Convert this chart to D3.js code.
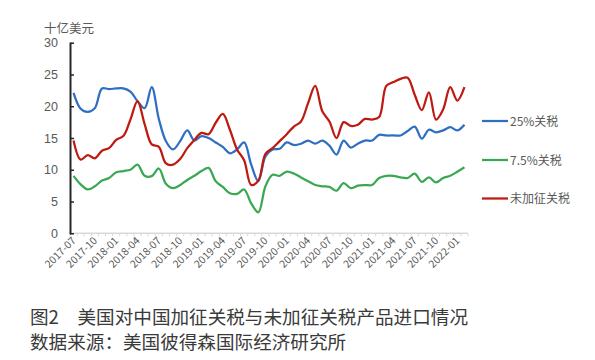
<!DOCTYPE html>
<html>
<head>
<meta charset="utf-8">
<title>美国对中国加征关税与未加征关税产品进口情况</title>
<script src="https://cdn.jsdelivr.net/npm/d3@7"></script>
<style>
body { margin: 0; background: #fff; }
svg text { font-family: "Noto Sans CJK SC", "Liberation Sans", sans-serif; }
.tick-label { fill: #595959; font-size: 12.5px; }
.xlab { fill: #595959; font-size: 10.5px; }
.leg { fill: #595959; font-size: 12px; }
.cap { fill: #3a3a3a; font-size: 18.6px; }
</style>
</head>
<body>
<svg id="vis" width="595" height="360"></svg>
<script>
// months on the category axis
var months = [
  "2017-07","2017-08","2017-09","2017-10","2017-11","2017-12",
  "2018-01","2018-02","2018-03","2018-04","2018-05","2018-06",
  "2018-07","2018-08","2018-09","2018-10","2018-11","2018-12",
  "2019-01","2019-02","2019-03","2019-04","2019-05","2019-06",
  "2019-07","2019-08","2019-09","2019-10","2019-11","2019-12",
  "2020-01","2020-02","2020-03","2020-04","2020-05","2020-06",
  "2020-07","2020-08","2020-09","2020-10","2020-11","2020-12",
  "2021-01","2021-02","2021-03","2021-04","2021-05","2021-06",
  "2021-07","2021-08","2021-09","2021-10","2021-11","2021-12",
  "2022-01","2022-02"
];

// 十亿美元
var tariff25 = [
  22.1, 19.6, 19.1, 19.7, 22.8, 22.7, 22.8, 22.8, 22.3, 20.8, 19.7, 23.0, 18.0, 14.5,
  13.2, 14.5, 16.2, 14.6, 15.3, 15.0, 14.3, 13.6, 12.6, 13.2, 14.3, 10.8, 8.2, 12.1,
  13.2, 13.3, 14.3, 13.9, 14.1, 14.6, 14.1, 14.6, 13.8, 12.4, 14.6, 13.5, 14.1, 14.6,
  14.6, 15.5, 15.4, 15.4, 15.4, 16.1, 16.8, 14.9, 16.3, 15.9, 16.2, 16.7, 16.2, 17.1
];
var tariff75 = [
  9.05, 7.7, 6.9, 7.4, 8.3, 8.7, 9.6, 9.8, 10.0, 10.8, 9.05, 9.0, 10.2, 7.8,
  7.1, 7.6, 8.4, 9.05, 9.8, 10.3, 8.2, 7.3, 6.3, 6.2, 6.9, 4.7, 3.3, 7.4,
  9.2, 9.05, 9.7, 9.4, 8.8, 8.2, 7.6, 7.4, 7.3, 6.7, 7.9, 7.1, 7.5, 7.6,
  7.6, 8.7, 9.05, 9.05, 8.8, 8.7, 9.4, 8.1, 8.8, 8.0, 8.7, 9.05, 9.7, 10.4
];
var noTariff = [
  14.6, 11.6, 12.3, 11.8, 13.0, 13.4, 14.7, 15.3, 17.9, 20.8, 17.2, 14.0, 13.6, 11.0,
  10.8, 11.7, 13.4, 14.7, 15.8, 15.6, 17.4, 18.8, 16.3, 13.2, 11.5, 7.6, 8.3, 12.5,
  13.4, 14.5, 15.6, 16.8, 17.6, 20.5, 23.2, 19.2, 17.6, 15.0, 17.5, 16.9, 17.1, 18.0,
  17.9, 18.3, 23.2, 23.8, 24.3, 24.5, 21.8, 19.4, 22.2, 17.9, 19.5, 23.0, 20.9, 23.0
];

var seriesNames = ["25%关税", "7.5%关税", "未加征关税"];
var seriesColors = ["#2e6fc2", "#3aa853", "#bf1a12"];
var yTicks = [0, 5, 10, 15, 20, 25, 30];
var xLabels = months.filter((d, i) => i % 3 === 0);

var svg = d3.select("#vis");

var x = d3.scaleBand().domain(months).range([70, 468]);
var y = d3.scaleLinear().domain([0, 30]).range([233.3, 42.7]);
var cx = d => x(d) + x.bandwidth() / 2;

// x axis: light line with a small tick at every month boundary
svg.append("line")
  .attr("x1", 70).attr("x2", 468)
  .attr("y1", y(0)).attr("y2", y(0))
  .attr("stroke", "#d9d9d9").attr("stroke-width", 1.5);

svg.append("g").selectAll("line")
  .data(months.concat(["end"]))
  .enter().append("line")
    .attr("x1", d => d === "end" ? 468 : x(d))
    .attr("x2", d => d === "end" ? 468 : x(d))
    .attr("y1", y(0)).attr("y2", y(0) + 3)
    .attr("stroke", "#d9d9d9");

svg.append("g").selectAll("text")
  .data(xLabels)
  .enter().append("text")
    .attr("class", "xlab")
    .attr("text-anchor", "end")
    .attr("transform", d => `translate(${cx(d) + 3}, ${y(0) + 8}) rotate(-45)`)
    .text(d => d);

// y axis
var yAxis = svg.append("g")
  .attr("transform", "translate(70,0)")
  .call(d3.axisLeft(y).tickValues(yTicks).tickSize(-4).tickPadding(12));
yAxis.select(".domain").attr("stroke", "#262626").attr("stroke-width", 2)
  .attr("d", `M0.5,${y(30)}V${y(0) + 1}`);
yAxis.selectAll(".tick line").attr("stroke", "#262626").attr("stroke-width", 1.5);
yAxis.selectAll(".tick text").attr("class", "tick-label").attr("fill", "#595959")
  .style("font-family", "'Liberation Sans', sans-serif");

svg.append("text")
  .attr("class", "leg")
  .attr("x", 44).attr("y", 33)
  .style("font-size", "12.5px")
  .text("十亿美元");

// lines
var line = d3.line()
  .x((d, i) => cx(months[i]))
  .y(d => y(d))
  .curve(d3.curveCatmullRom.alpha(0.5));

[tariff25, tariff75, noTariff].forEach(function (vals, k) {
  svg.append("path")
    .attr("d", line(vals))
    .attr("fill", "none")
    .attr("stroke", seriesColors[k])
    .attr("stroke-width", 2.25)
    .attr("stroke-linejoin", "round");
});

// legend
var legY = [121, 160, 198.5];
var legend = svg.append("g");
seriesNames.forEach(function (name, k) {
  legend.append("line")
    .attr("x1", 482).attr("x2", 508)
    .attr("y1", legY[k]).attr("y2", legY[k])
    .attr("stroke", seriesColors[k]).attr("stroke-width", 2.25);
  legend.append("text")
    .attr("class", "leg")
    .attr("x", 510).attr("y", legY[k] + 4.5)
    .text(name);
});

// caption
svg.append("text").attr("class", "cap")
  .attr("x", 30).attr("y", 324)
  .text("图2　美国对中国加征关税与未加征关税产品进口情况");
svg.append("text").attr("class", "cap")
  .attr("x", 30).attr("y", 349)
  .text("数据来源：美国彼得森国际经济研究所");
</script>
</body>
</html>
